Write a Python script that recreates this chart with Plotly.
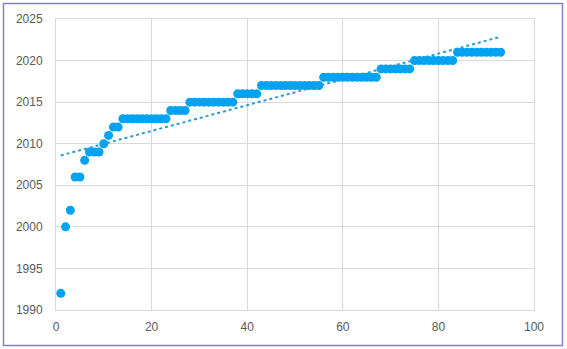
import numpy as np
import plotly.graph_objects as go

# Data: index -> year
x_vals = list(range(1, 94))
year_runs = [
    (1992, 1), (2000, 1), (2002, 1), (2006, 2), (2008, 1), (2009, 3),
    (2010, 1), (2011, 1), (2012, 2), (2013, 10), (2014, 4), (2015, 10),
    (2016, 5), (2017, 13), (2018, 12), (2019, 7), (2020, 9), (2021, 10),
]
y_vals = []
for yr, n in year_runs:
    y_vals += [yr] * n

x_ticks = [0, 20, 40, 60, 80, 100]
y_ticks = [1990, 1995, 2000, 2005, 2010, 2015, 2020, 2025]

# linear trendline (least squares, as Excel)
slope, intercept = np.polyfit(x_vals, y_vals, 1)
trend_x = [min(x_vals), max(x_vals)]
trend_y = [slope * v + intercept for v in trend_x]

W, H = 567, 349
ml, mr, mt, mb = 56, 33, 19, 39

fig = go.Figure()
fig.add_trace(go.Scatter(
    x=x_vals, y=y_vals, mode="markers",
    marker=dict(color="#00A2F2", size=9, line=dict(width=0)),
    showlegend=False, hoverinfo="skip",
))
fig.add_trace(go.Scatter(
    x=trend_x, y=trend_y, mode="lines",
    line=dict(color="#2B9AD8", width=2, dash="dot"),
    showlegend=False, hoverinfo="skip",
))

pw = W - ml - mr
ph = H - mt - mb
def px2paper_x(p):
    return (p - ml) / pw
def px2paper_y(p):
    return 1 - (p - mt) / ph

fig.add_shape(type="rect", xref="paper", yref="paper",
              x0=px2paper_x(3.5), x1=px2paper_x(562.5),
              y0=px2paper_y(345.5), y1=px2paper_y(3.5),
              line=dict(color="#8583C2", width=1.5), fillcolor="rgba(0,0,0,0)",
              layer="below")

fig.update_layout(
    width=W, height=H,
    margin=dict(l=ml, r=mr, t=mt, b=mb),
    paper_bgcolor="white", plot_bgcolor="white",
    font=dict(family="Liberation Sans, Arial, sans-serif", size=12, color="#595959"),
    xaxis=dict(range=[0, 100], tickvals=x_ticks, showgrid=True, gridcolor="#D9D9D9",
               gridwidth=1, zeroline=False, showline=True, linecolor="#D9D9D9",
               mirror=True, ticks="outside", ticklen=6, tickcolor="rgba(0,0,0,0)"),
    yaxis=dict(range=[1990, 2025], tickvals=y_ticks, showgrid=True, gridcolor="#D9D9D9",
               gridwidth=1, zeroline=False, showline=True, linecolor="#D9D9D9",
               mirror=True, ticks="outside", ticklen=10, tickcolor="rgba(0,0,0,0)"),
)

fig.write_html("out.html")
